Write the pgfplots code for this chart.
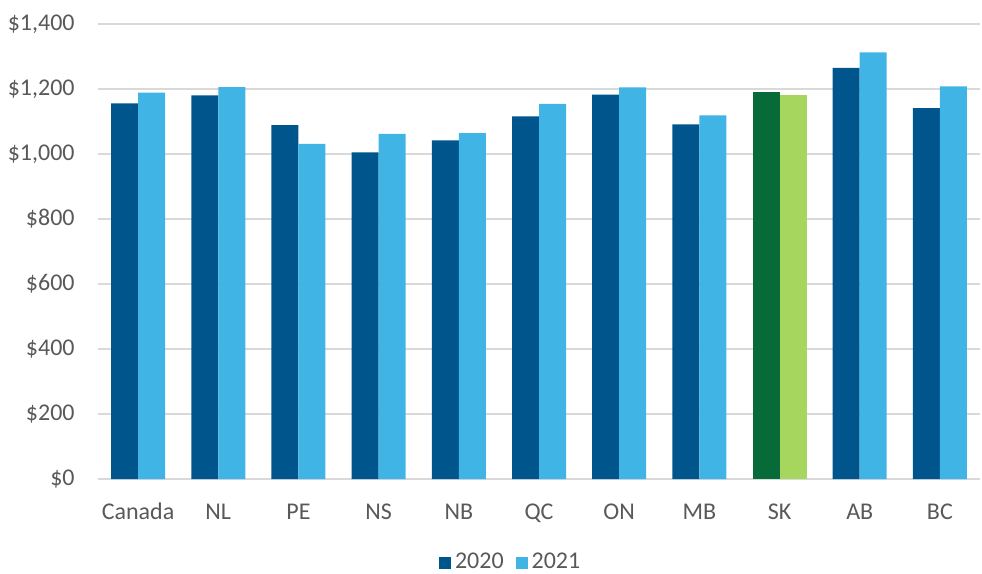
\documentclass[border=0pt]{standalone}
\usepackage{fontspec}
\setmainfont{Carlito}
\usepackage{pgfplots}
\pgfplotsset{compat=1.18}
\usetikzlibrary{calc}
\definecolor{dblue}{HTML}{00558C}
\definecolor{lblue}{HTML}{41B4E6}
\definecolor{dgreen}{HTML}{066B38}
\definecolor{lgreen}{HTML}{A6D65E}
\definecolor{gridc}{HTML}{D9D9D9}
\definecolor{txt}{HTML}{595959}
\begin{document}
\begin{tikzpicture}
\fontsize{12}{14}\selectfont
\begin{axis}[
  name=ax,
  scale only axis,
  width=441pt, height=227.5pt,
  ybar, bar width=13.5pt,
  xmin=-0.5, xmax=10.5,
  ymin=0, ymax=1400,
  xtick={0,...,10},
  xticklabels={Canada,NL,PE,NS,NB,QC,ON,MB,SK,AB,BC},
  ytick={0,200,...,1400},
  yticklabels={\$0,\$200,\$400,\$600,\$800,{\$1,000},{\$1,200},{\$1,400}},
  major tick length=0pt,
  axis line style={draw=none},
  ymajorgrids,
  grid style={gridc, line width=0.75pt},
  tick label style={font=\fontsize{12}{14}\selectfont, text=txt},
  x tick label style={anchor=base, yshift=-20pt},
  y tick label style={anchor=east, xshift=-7.5pt},
  legend style={draw=none, fill=none, at={(0.469,-0.1846)}, anchor=center,
    legend columns=2, font=\fontsize{12}{14}\selectfont, text=txt,
    /tikz/every even column/.append style={column sep=4pt}},
  legend image code/.code={\fill[#1] (0pt,-3pt) rectangle (6pt,3pt);},
]
\addplot[fill=dblue, draw=none, bar shift=-6.75pt] coordinates {
 (0,1156) (1,1180) (2,1089) (3,1005) (4,1042) (5,1116) (6,1183) (7,1091) (9,1265) (10,1141)};
\addplot[fill=lblue, draw=none, bar shift=6.75pt] coordinates {
 (0,1189) (1,1206) (2,1031) (3,1062) (4,1064) (5,1154) (6,1205) (7,1119) (9,1313) (10,1208)};
\addplot[fill=dgreen, draw=none, bar shift=-6.75pt, forget plot] coordinates {(8,1191)};
\addplot[fill=lgreen, draw=none, bar shift=6.75pt, forget plot] coordinates {(8,1182)};
\legend{2020,2021}
\end{axis}
\pgfresetboundingbox
\path[use as bounding box] ($(ax.south west)+(-49pt,-47pt)$) rectangle ($(ax.north east)+(1pt,12pt)$);
\end{tikzpicture}
\end{document}
